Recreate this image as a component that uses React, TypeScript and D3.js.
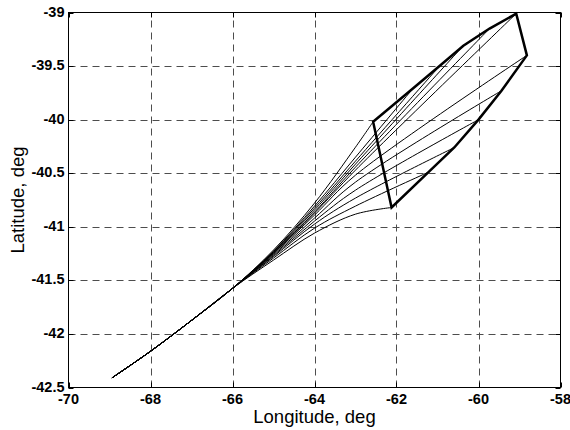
import React from "react";
import * as d3 from "d3";

const xTicks = [-70, -68, -66, -64, -62, -60, -58];
const yTicks = [-39, -39.5, -40, -40.5, -41, -41.5, -42, -42.5];

// common trunk of all trajectories
const trunkLon = [-68.94, -68, -67, -66];
const trunkLat = [-42.41, -42.162, -41.874, -41.575];

// fan: waypoint latitudes at lon -65, -64 and -63, then end points
const fanLat65 = [-41.217, -41.227, -41.231, -41.236, -41.241, -41.245, -41.25, -41.259, -41.269, -41.278, -41.292, -41.311];
const fanLat64 = [-40.779, -40.807, -40.826, -40.844, -40.863, -40.872, -40.891, -40.919, -40.947, -40.975, -41.013, -41.059];
const fanLat63 = [-40.257, -40.35, -40.387, -40.415, -40.443, -40.471, -40.518, -40.583, -40.658, -40.732, -40.807, -40.882];
const fanEndLon = [-62.57, -61.6, -60.95, -60.37, -59.73, -59.08, -58.82, -59.44, -60.0, -60.59, -61.22, -62.12];
const fanEndLat = [-40.02, -39.71, -39.5, -39.31, -39.15, -39.01, -39.4, -39.73, -40.0, -40.26, -40.49, -40.82];

const W = 570;
const H = 430;
const L = 68.5, R = 560.5, T = 12.5, B = 387.5;

export default function App() {
  const x = d3.scaleLinear().domain([-70, -58]).range([L, R]);
  const y = d3.scaleLinear().domain([-42.5, -39]).range([B, T]);

  const line = d3
    .line<[number, number]>()
    .x((d) => x(d[0]))
    .y((d) => y(d[1]))
    .curve(d3.curveCatmullRom.alpha(0.5));

  const poly = d3
    .line<[number, number]>()
    .x((d) => x(d[0]))
    .y((d) => y(d[1]))
    .curve(d3.curveLinearClosed);

  const trunk: [number, number][] = trunkLon.map((lo, i) => [lo, trunkLat[i]]);
  const fans = fanEndLon.map((lo, i) => {
    const pts: [number, number][] = [
      ...trunk,
      [-65, fanLat65[i]],
      [-64, fanLat64[i]],
      [-63, fanLat63[i]],
      [lo, fanEndLat[i]],
    ];
    return line(pts) as string;
  });
  const polyPath = poly(fanEndLon.map((lo, i) => [lo, fanEndLat[i]] as [number, number])) as string;

  const font = "'Liberation Sans', Arial, sans-serif";

  return (
    <svg
      width={W}
      height={H}
      style={{ position: "absolute", left: 0, top: 0, background: "#fff" }}
      fontFamily={font}
    >
      <rect x={0} y={0} width={W} height={H} fill="#fff" />
      {/* grid */}
      <g stroke="#4d4d4d" strokeWidth={1} strokeDasharray="7,5" fill="none">
        {xTicks.slice(1, -1).map((t) => (
          <line key={"gx" + t} x1={Math.round(x(t)) + 0.5} x2={Math.round(x(t)) + 0.5} y1={B} y2={T} />
        ))}
        {yTicks.slice(1, -1).map((t) => (
          <line key={"gy" + t} x1={L} x2={R} y1={Math.round(y(t)) + 0.5} y2={Math.round(y(t)) + 0.5} />
        ))}
      </g>
      {/* data */}
      <g fill="none" stroke="#000" strokeWidth={1}>
        {fans.map((d, i) => (
          <path key={"f" + i} d={d} />
        ))}
      </g>
      <path d={polyPath} fill="none" stroke="#000" strokeWidth={2.5} strokeLinejoin="miter" />
      {/* axes box */}
      <rect x={L} y={T} width={R - L} height={B - T} fill="none" stroke="#000" strokeWidth={1} />
      {/* ticks */}
      <g stroke="#000" strokeWidth={1}>
        {xTicks.map((t) => (
          <g key={"tx" + t}>
            <line x1={Math.round(x(t)) + 0.5} x2={Math.round(x(t)) + 0.5} y1={B} y2={B - 5} />
            <line x1={Math.round(x(t)) + 0.5} x2={Math.round(x(t)) + 0.5} y1={T} y2={T + 5} />
          </g>
        ))}
        {yTicks.map((t) => (
          <g key={"ty" + t}>
            <line x1={L} x2={L + 5} y1={Math.round(y(t)) + 0.5} y2={Math.round(y(t)) + 0.5} />
            <line x1={R} x2={R - 5} y1={Math.round(y(t)) + 0.5} y2={Math.round(y(t)) + 0.5} />
          </g>
        ))}
      </g>
      {/* tick labels */}
      <g fontSize={14.5} fontWeight="bold" fill="#000">
        {xTicks.map((t) => (
          <text key={"lx" + t} x={x(t)} y={404} textAnchor="middle">
            {String(t)}
          </text>
        ))}
        {yTicks.map((t) => (
          <text key={"ly" + t} x={L - 4} y={y(t) + 4} textAnchor="end">
            {String(t)}
          </text>
        ))}
      </g>
      <text x={(L + R) / 2} y={422.5} textAnchor="middle" fontSize={18.5} fill="#000">
        Longitude, deg
      </text>
      <text
        transform={`translate(23.5,${(T + B) / 2}) rotate(-90)`}
        textAnchor="middle"
        fontSize={18.5}
        fill="#000"
      >
        Latitude, deg
      </text>
    </svg>
  );
}
